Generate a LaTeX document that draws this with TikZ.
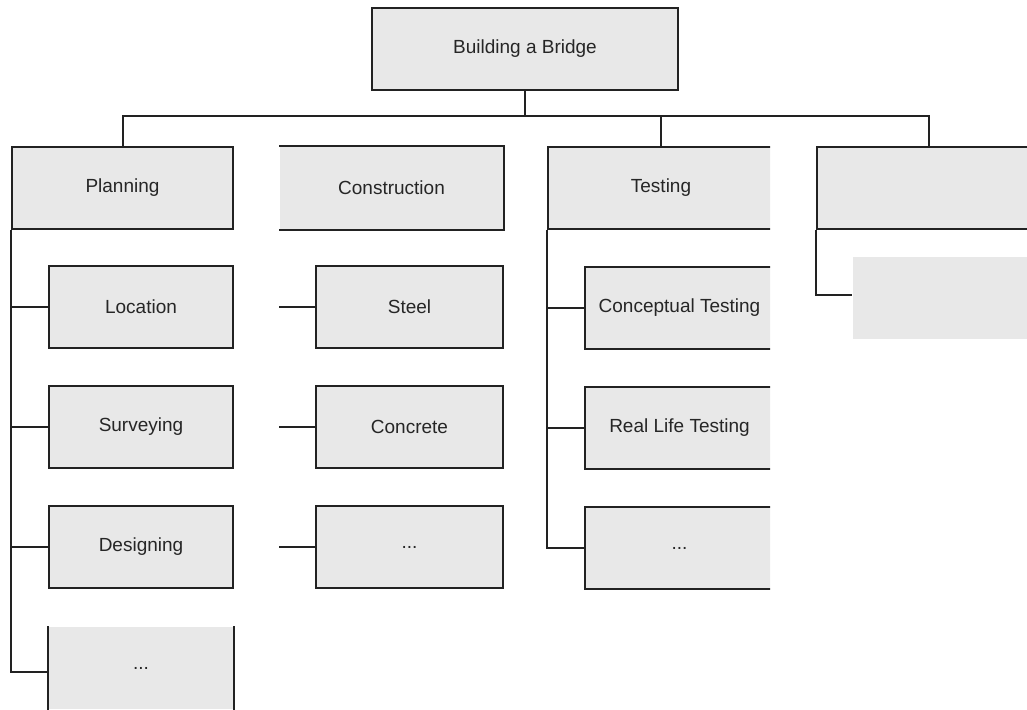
\documentclass[tikz,border=0pt]{standalone}
\usepackage{fontspec}
\setmainfont{Liberation Sans}
\definecolor{boxgray}{HTML}{E8E8E8}
\definecolor{linec}{HTML}{222222}
\begin{document}
\begin{tikzpicture}[x=1pt,y=-1pt,
  box/.style={draw=linec, line width=2pt, fill=boxgray, minimum height=82pt,
    inner sep=0pt, font=\fontsize{19}{22}\selectfont, text=black!85},
  openbox/.style={box, draw=none},
  link/.style={draw=linec, line width=2pt}]
\useasboundingbox (0,0) rectangle (1027,709);
\clip (0,0) rectangle (1027,709);

% root
\node[box, minimum width=306pt] (root) at (525,49) {Building a Bridge};
\coordinate (bar) at (525,116);

% column headers
\node[box, minimum width=221pt] (plan) at (122.5,188) {Planning};
\node[openbox, minimum width=223pt] (cons) at (391.5,187.5) {Construction};
\begin{scope}
  \clip (540,130) rectangle (770,600);
  \node[box, minimum width=226pt] (test) at (661,188) {Testing};
  \node[box, minimum width=189pt] (ctest) at (679.5,307.5) {Conceptual Testing};
  \node[box, minimum width=189pt] (rtest) at (679.5,427.5) {Real Life Testing};
  \node[box, minimum width=189pt] (tmore) at (679.5,548) {...};
\end{scope}
\node[box, minimum width=224pt] (more) at (929,188) {};

% planning children
\node[box, minimum width=184pt] (loc) at (141,307) {Location};
\node[box, minimum width=184pt] (surv) at (141,427) {Surveying};
\node[box, minimum width=184pt] (des) at (141,547) {Designing};
\node[openbox, minimum width=184pt] (pmore) at (141,668) {...};

% construction children
\node[box, minimum width=187pt] (steel) at (409.5,307) {Steel};
\node[box, minimum width=187pt] (conc) at (409.5,427) {Concrete};
\node[box, minimum width=187pt] (cmore) at (409.5,547) {...};

% fourth column child (no border)
\node[openbox, minimum width=187pt] (mmore) at (946.5,298) {};

% partial borders
\draw[link] (cons.north west) -- (cons.north east) -- (cons.south east) -- (cons.south west);
\draw[link] (pmore.north west) -- (pmore.south west);
\draw[link] (pmore.north east) -- (pmore.south east);

% tree connectors
\draw[link] (root.south) -- (bar);
\draw[link] (plan.north) |- (bar) -| (more.north);
\draw[link] (test.north) -- (test.north |- bar);

\draw[link] (plan.south west) |- (loc.west);
\draw[link] (plan.south west |- surv.west) -- (surv.west);
\draw[link] (plan.south west |- des.west) -- (des.west);
\draw[link] (plan.south west) |- ([yshift=-4pt]pmore.west);

\draw[link] (cons.west |- steel.west) -- (steel.west);
\draw[link] (cons.west |- conc.west) -- (conc.west);
\draw[link] (cons.west |- cmore.west) -- (cmore.west);

\draw[link] (test.south west) |- (ctest.west);
\draw[link] (test.south west |- rtest.west) -- (rtest.west);
\draw[link] (test.south west) |- (tmore.west);

\draw[link] (more.south west) |- ([yshift=3pt]mmore.west);
\end{tikzpicture}
\end{document}
